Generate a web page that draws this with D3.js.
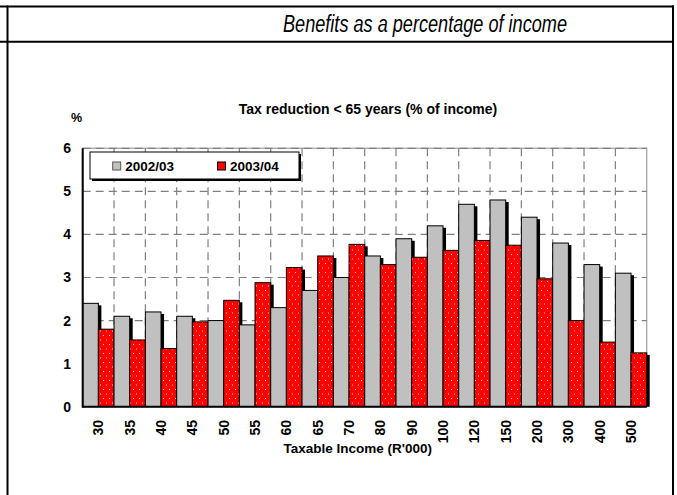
<!DOCTYPE html>
<html>
<head>
<meta charset="utf-8">
<script src="https://cdn.jsdelivr.net/npm/d3@7"></script>
<style>
  body { margin: 0; background: #fff; }
  svg { display: block; font-family: Arial, "Liberation Sans", sans-serif; }
</style>
</head>
<body>
<div id="chart"></div>
<script>
const categories = ['30', '35', '40', '45', '50', '55', '60', '65', '70', '80', '90', '100', '120', '150', '200', '300', '400', '500'];
const series2002 = [2.4, 2.1, 2.2, 2.1, 2.0, 1.9, 2.3, 2.7, 3.0, 3.5, 3.9, 4.2, 4.7, 4.8, 4.4, 3.8, 3.3, 3.1];
const series2003 = [1.8, 1.55, 1.35, 1.97, 2.47, 2.88, 3.23, 3.5, 3.77, 3.3, 3.47, 3.63, 3.86, 3.75, 2.97, 2.0, 1.5, 1.25];
const seriesNames = ['2002/03', '2003/04'];
const yTicks = [0, 1, 2, 3, 4, 5, 6];

const width = 677,
height = 495,
plot = { left: 82.7, right: 646.7, top: 148.3, bottom: 406.7 };

const svg = d3.select('#chart').
append('svg').
attr('width', width).
attr('height', height);

// red dotted fill
const defs = svg.append('defs');
const pat = defs.append('pattern').
attr('id', 'dots').
attr('patternUnits', 'userSpaceOnUse').
attr('width', 6).
attr('height', 9);
pat.append('rect').attr('width', 6).attr('height', 9).attr('fill', '#ff0000');
pat.append('rect').attr('x', 1).attr('y', 2).attr('width', 1).attr('height', 1).attr('fill', '#ffd8d8');
pat.append('rect').attr('x', 4).attr('y', 6.5).attr('width', 1).attr('height', 1).attr('fill', '#ffd8d8');

defs.append('clipPath').attr('id', 'plotclip').
append('rect').
attr('x', plot.left).attr('y', 0).
attr('width', plot.right - plot.left + 10).
attr('height', plot.bottom);

// page frame
const frame = svg.append('g').attr('stroke', '#000').attr('stroke-width', 2);
frame.append('line').attr('x1', 0).attr('x2', 674).attr('y1', 6.5).attr('y2', 6.5);
frame.append('line').attr('x1', 0).attr('x2', 674).attr('y1', 41.7).attr('y2', 41.7);
frame.append('line').attr('x1', 7.5).attr('x2', 7.5).attr('y1', 5.5).attr('y2', 495);
frame.append('line').attr('x1', 673).attr('x2', 673).attr('y1', 5.5).attr('y2', 495);

// narrow italic heading
svg.append('text').
text('Benefits as a percentage of income').
attr('x', 283).
attr('y', 32).
attr('textLength', 284).
attr('lengthAdjust', 'spacingAndGlyphs').
style('font-family', '"Liberation Sans Narrow", "Arial Narrow", Arial, sans-serif').
style('font-style', 'italic').
style('font-size', '23px');

const x = d3.scaleBand().
domain(categories).
range([plot.left, plot.right]).
padding(0);

const y = d3.scaleLinear().
domain([0, 6]).
range([plot.bottom, plot.top]);

// plot border + grid
svg.append('rect').
attr('x', plot.left).attr('y', plot.top).
attr('width', plot.right - plot.left).
attr('height', plot.bottom - plot.top).
attr('fill', 'none').
attr('stroke', '#b0b0b0').
attr('stroke-width', 1.5);

const grid = svg.append('g').
attr('stroke', '#808080').
attr('stroke-width', 1.2).
attr('stroke-dasharray', '8,5');

grid.selectAll('line.h').
data(yTicks.slice(1)).
enter().
append('line').
attr('class', 'h').
attr('x1', plot.left).
attr('x2', plot.right).
attr('y1', d => y(d)).
attr('y2', d => y(d));

grid.selectAll('line.v').
data(categories.slice(1)).
enter().
append('line').
attr('class', 'v').
attr('x1', d => x(d)).
attr('x2', d => x(d)).
attr('y1', plot.top).
attr('y2', plot.bottom);

// bars, category by category so the shadows stack like the original
const bw = x.bandwidth() / 2;
const bars = svg.append('g').attr('clip-path', 'url(#plotclip)');

categories.forEach((c, i) => {
  [series2002[i], series2003[i]].forEach((v, s) => {
    const bx = x(c) + s * bw;
    bars.append('rect').
    attr('x', bx + 3).
    attr('y', y(v) + 2).
    attr('width', bw).
    attr('height', plot.bottom - y(v)).
    attr('fill', '#000');
    bars.append('rect').
    attr('x', bx).
    attr('y', y(v)).
    attr('width', bw).
    attr('height', plot.bottom - y(v)).
    attr('fill', s === 0 ? '#c0c0c0' : 'url(#dots)').
    attr('stroke', '#000').
    attr('stroke-width', 1);
  });
});

// axes
const yAxis = svg.append('g').
attr('transform', `translate(${plot.left},0)`).
call(d3.axisLeft(y).tickValues(yTicks).tickFormat(d3.format('d')).tickSize(0).tickPadding(11.7));
yAxis.select('.domain').remove();
yAxis.selectAll('text').
attr('font-family', 'Arial, "Liberation Sans", sans-serif').
style('font-size', '14px').
style('font-weight', 'bold').
attr('fill', '#000');

const xAxis = svg.append('g').
attr('transform', `translate(0,${plot.bottom})`).
call(d3.axisBottom(x).tickSize(0));
xAxis.select('.domain').remove();
xAxis.selectAll('text').
attr('font-family', 'Arial, "Liberation Sans", sans-serif').
attr('transform', 'rotate(-90)').
attr('text-anchor', 'end').
attr('x', -13.3).
attr('y', 0).
attr('dy', '0.36em').
style('font-size', '14px').
style('font-weight', 'bold').
attr('fill', '#000');

svg.append('line').
attr('x1', plot.left).attr('x2', plot.left).
attr('y1', plot.top).attr('y2', plot.bottom + 1).
attr('stroke', '#000').attr('stroke-width', 2);
svg.append('line').
attr('x1', plot.left).attr('x2', plot.right).
attr('y1', plot.bottom).attr('y2', plot.bottom).
attr('stroke', '#000').attr('stroke-width', 2);

// titles
svg.append('text').
text('Tax reduction < 65 years (% of income)').
attr('x', 368).
attr('y', 114).
attr('text-anchor', 'middle').
style('font-size', '14px').
style('font-weight', 'bold');

svg.append('text').
text('%').
attr('x', 76.5).
attr('y', 122).
attr('text-anchor', 'middle').
style('font-size', '12.5px').
style('font-weight', 'bold');

svg.append('text').
text("Taxable Income (R'000)").
attr('x', 357.7).
attr('y', 453).
attr('text-anchor', 'middle').
style('font-size', '13.5px').
style('font-weight', 'bold');

// legend
const legend = svg.append('g').attr('id', 'legend');
legend.append('rect').
attr('x', 92).attr('y', 154).
attr('width', 209).attr('height', 27).
attr('fill', '#000');
legend.append('rect').
attr('x', 90).attr('y', 152).
attr('width', 209).attr('height', 27).
attr('fill', '#fff').
attr('stroke', '#000').
attr('stroke-width', 1);

const legendX = [112.7, 217.5];
legend.selectAll('rect.key').
data(seriesNames).
enter().
append('rect').
attr('class', 'key').
attr('x', (d, i) => legendX[i]).
attr('y', 162).
attr('width', 8).
attr('height', 8).
attr('fill', (d, i) => i === 0 ? '#c0c0c0' : '#ff0000').
attr('stroke', (d, i) => i === 0 ? '#555' : '#000').
attr('stroke-width', 1);

legend.selectAll('text').
data(seriesNames).
enter().
append('text').
attr('x', (d, i) => legendX[i] + 12.5).
attr('y', 170.8).
text(d => d).
style('font-size', '13.5px').
style('font-weight', 'bold');
</script>
</body>
</html>
